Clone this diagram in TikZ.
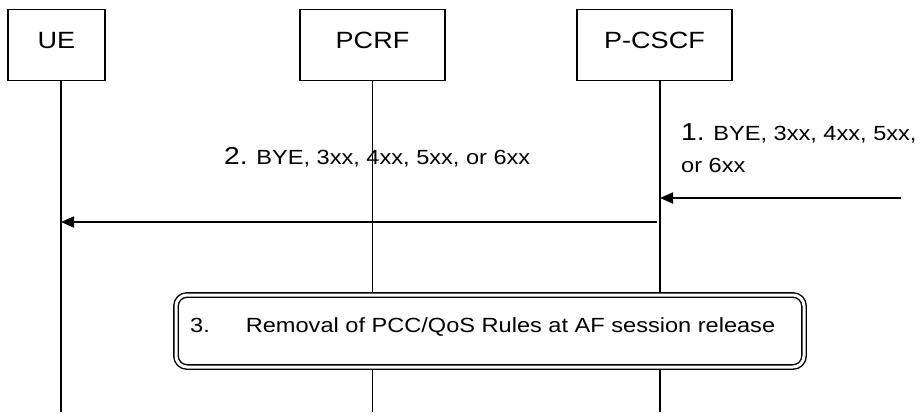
\documentclass[tikz,border=0pt]{standalone}
\usepackage{fontspec}
\setmainfont{Liberation Sans}
\newfontfamily\diafont[FakeStretch=1.15]{Liberation Sans}
\usetikzlibrary{arrows.meta,calc}

\begin{document}
\begin{tikzpicture}[x=1pt,y=-1pt,
  entity/.style={draw,line width=1.4pt,minimum height=71pt,inner sep=0pt,
    text height=16.5pt,text depth=10pt,font=\diafont\fontsize{23.5}{26}\selectfont},
  lifeline/.style={line width=1.5pt},
  msg/.style={line width=1.8pt,-{Triangle[length=13pt,width=11pt]}},
  msgtext/.style={inner sep=0pt,font=\diafont\fontsize{20.5}{32}\selectfont},
  procbox/.style={draw,fill=white,rounded corners=11pt,line width=1.4pt,
    double,double distance=3pt,minimum width=628pt,minimum height=72pt}]
  \useasboundingbox (0,0) rectangle (918,416);
  \newcommand{\stepnum}{\fontsize{24.5}{28}\selectfont}

  % entities
  \node[entity,minimum width=97pt]  (ue)    at (56.5,45)  {UE};
  \node[entity,minimum width=145pt] (pcrf)  at (372.5,45) {PCRF};
  \node[entity,minimum width=155pt] (pcscf) at (654.5,45) {P-CSCF};

  % lifelines
  \coordinate (uebot)    at (61,412);
  \coordinate (pcrfbot)  at (372.5,412);
  \coordinate (pcscfbot) at (660,412);
  \draw[lifeline] (ue.south -| uebot) -- (uebot);
  \draw[lifeline] (pcrf.south -| pcrfbot) -- (pcrfbot);
  \draw[lifeline] (pcscf.south -| pcscfbot) -- (pcscfbot);

  % 1. incoming message
  \coordinate (src1) at (901,198);
  \draw[msg] (src1) -- (src1 -| pcscfbot);
  \node[msgtext,anchor=north west,align=left] (lbl1) at (681,123)
    {{\stepnum 1.} BYE, 3xx, 4xx, 5xx,\\or 6xx};

  % 2. forwarded to UE
  \coordinate (src2) at (657,222);
  \draw[msg] (src2) -- (src2 -| uebot);
  \node[msgtext,anchor=base west] (lbl2) at (224,164)
    {{\stepnum 2.} BYE, 3xx, 4xx, 5xx, or 6xx};

  % 3. procedure box
  \node[procbox] (removal) at (490,331) {};
  \node[msgtext,anchor=base west] (lbl3) at (190,332)
    {3.\hspace{36pt}Removal of PCC/QoS Rules at AF session release};
\end{tikzpicture}
\end{document}
